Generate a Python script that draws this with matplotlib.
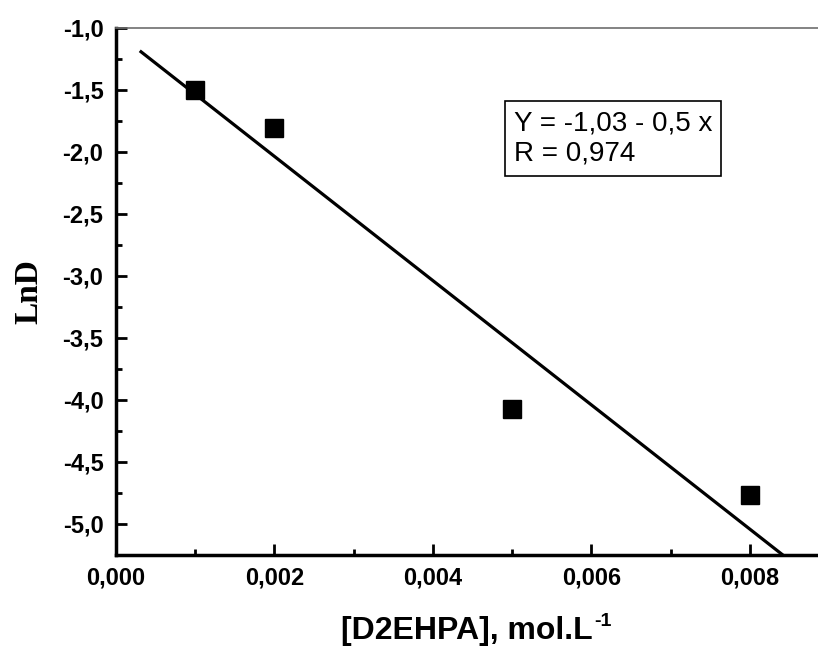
import matplotlib.pyplot as plt
import numpy as np
from matplotlib.ticker import FuncFormatter, MultipleLocator

# data
conc = [0.001, 0.002, 0.005, 0.008]
lnd = [-1.50, -1.81, -4.07, -4.77]
fit_start, fit_end = 0.0003, 0.0086
fit_text = "Y = -1,03 - 0,5 x\nR = 0,974"

plt.rcParams["font.family"] = "Liberation Sans"

W, H = 818, 646
fig = plt.figure(figsize=(W / 100, H / 100), dpi=100)
ax = fig.add_axes([116 / W, (H - 555) / H, (W - 116) / W, (555 - 28) / H])

slope, intercept = np.polyfit(conc, lnd, 1)
xs = np.array([fit_start, fit_end])
ax.plot(xs, intercept + slope * xs, color="black", lw=2.3, solid_capstyle="butt")
ax.plot(conc, lnd, "s", color="black", markersize=13.5, zorder=3)

ax.set_xlim(0, 0.00886)
ax.set_ylim(-5.25, -1.0)

ax.xaxis.set_major_locator(MultipleLocator(0.002))
ax.xaxis.set_minor_locator(MultipleLocator(0.001))
ax.yaxis.set_major_locator(MultipleLocator(0.5))
ax.yaxis.set_minor_locator(MultipleLocator(0.25))
ax.xaxis.set_major_formatter(FuncFormatter(lambda v, p: f"{v:.3f}".replace(".", ",")))
ax.yaxis.set_major_formatter(FuncFormatter(lambda v, p: f"{v:.1f}".replace(".", ",")))

ax.tick_params(which="both", direction="in", width=2.0, top=False, right=False)
ax.tick_params(which="major", length=8, labelsize=17)
ax.tick_params(axis="x", which="major", pad=8)
ax.tick_params(axis="y", which="major", pad=9)
ax.tick_params(which="minor", length=4.5)
for lab in ax.get_xticklabels() + ax.get_yticklabels():
    lab.set_fontweight("bold")

ax.spines["left"].set_linewidth(2.5)
ax.spines["bottom"].set_linewidth(2.5)
ax.spines["top"].set_linewidth(1.2)
ax.spines["top"].set_color("#6e6e6e")
ax.spines["right"].set_visible(False)

ax.set_xlabel("[D2EHPA], mol.L", fontsize=23, fontweight="bold", labelpad=19)
ax.annotate("-1", xy=(1, 1), xycoords=ax.xaxis.label, xytext=(1, 2),
            textcoords="offset points", fontsize=14, fontweight="bold",
            ha="left", va="top")
ax.set_ylabel("LnD", fontsize=24, fontweight="bold", family="Liberation Serif", labelpad=13)

ax.text((514 - 116) / 702, (555 - 110) / 527, fit_text, transform=ax.transAxes,
        fontsize=20, va="top", ha="left", linespacing=1.25,
        bbox=dict(boxstyle="square,pad=0.32", fc="white", ec="black", lw=1.2))

fig.savefig("out.png", dpi=100)
